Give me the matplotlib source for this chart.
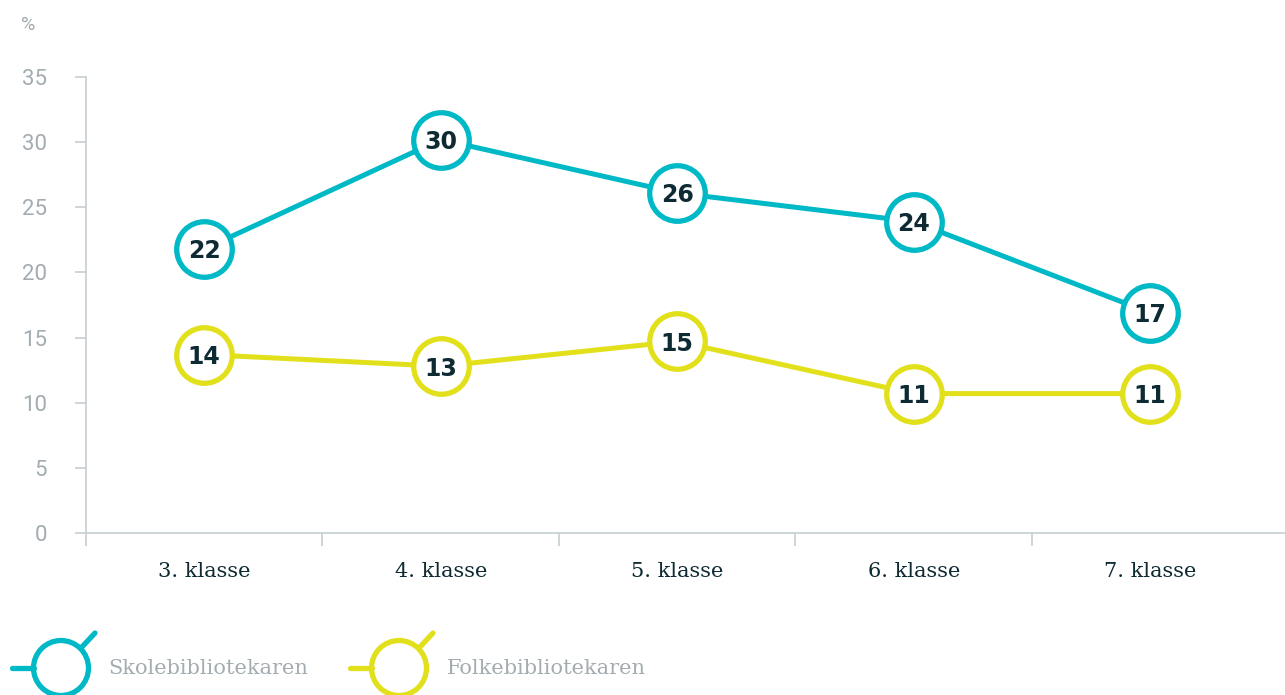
import matplotlib
matplotlib.use("Agg")
import matplotlib.pyplot as plt
from matplotlib.patches import Circle
from matplotlib.lines import Line2D

categories = ["3. klasse", "4. klasse", "5. klasse", "6. klasse", "7. klasse"]
skole = [21.8, 30.2, 26.1, 23.9, 16.9]
folke = [13.7, 12.8, 14.7, 10.7, 10.7]
series_names = ["Skolebibliotekaren", "Folkebibliotekaren"]
y_ticks = [0, 5, 10, 15, 20, 25, 30, 35]

BLUE = "#00B9C6"
YELLOW = "#E2E01B"
DARK = "#0E2A33"
GRAY = "#A3ACB1"
AXIS = "#C6CED3"

W, H = 1285, 695
fig = plt.figure(figsize=(W / 100, H / 100), dpi=100)
ax = fig.add_axes([86 / W, (H - 533) / H, (W - 86) / W, (533 - 77) / H])

x = list(range(len(categories)))
for vals, col in [(skole, BLUE), (folke, YELLOW)]:
    ax.plot(x, vals, color=col, lw=3.6, zorder=2, solid_capstyle="round")
    ax.plot(x, vals, ls="none", marker="o", ms=40, mfc="white", mec=col,
            mew=3.8, zorder=3)
    for xi, v in zip(x, vals):
        ax.text(xi, v, f"{round(v)}", ha="center", va="center_baseline",
                fontsize=17, fontweight="heavy", color=DARK,
                family="DejaVu Sans", zorder=4)

ax.set_xlim(-0.5, 4.57)
ax.set_ylim(0, 35)
ax.set_yticks(y_ticks)
ax.set_yticklabels([str(t) for t in y_ticks])
ax.tick_params(axis="y", length=8, width=1.2, color=AXIS, pad=20,
               labelsize=16, labelcolor=GRAY)
for lab in ax.get_yticklabels():
    lab.set_family("Roboto")

ax.set_xticks([i - 0.5 for i in range(len(categories))])
ax.set_xticklabels([""] * len(categories))
ax.set_xticks(x, minor=True)
ax.set_xticklabels(categories, minor=True, fontsize=15, color=DARK,
                   family="DejaVu Serif")
ax.tick_params(axis="x", which="major", length=9, width=1.2, color=AXIS)
ax.tick_params(axis="x", which="minor", length=0, pad=21)

for s in ["top", "right"]:
    ax.spines[s].set_visible(False)
for s in ["left", "bottom"]:
    ax.spines[s].set_color(AXIS)
    ax.spines[s].set_linewidth(1.2)

fig.text(21 / W, 1 - 25 / H, "%", fontsize=14, color=GRAY, family="Roboto",
         ha="left", va="center")

# legend drawn in pixel coordinates
lax = fig.add_axes([0, 0, 1, 1])
lax.set_xlim(0, W)
lax.set_ylim(H, 0)
lax.axis("off")
lax.patch.set_alpha(0)
legend_items = [(series_names[0], BLUE, 61, 108), (series_names[1], YELLOW, 399, 447)]
cy = 668
r = 27.5
for name, col, cx, tx in legend_items:
    lax.add_patch(Circle((cx, cy), r, fill=False, ec=col, lw=3.8))
    lax.add_line(Line2D([cx - r - 22, cx - r], [cy, cy], color=col, lw=3.8,
                        solid_capstyle="round"))
    lax.add_line(Line2D([cx + 20, cx + 34], [cy - 20, cy - 35], color=col,
                        lw=3.8, solid_capstyle="round"))
    lax.text(tx, cy, name, fontsize=15, color=GRAY, family="DejaVu Serif",
             ha="left", va="center")

fig.savefig("out.png", dpi=100)
